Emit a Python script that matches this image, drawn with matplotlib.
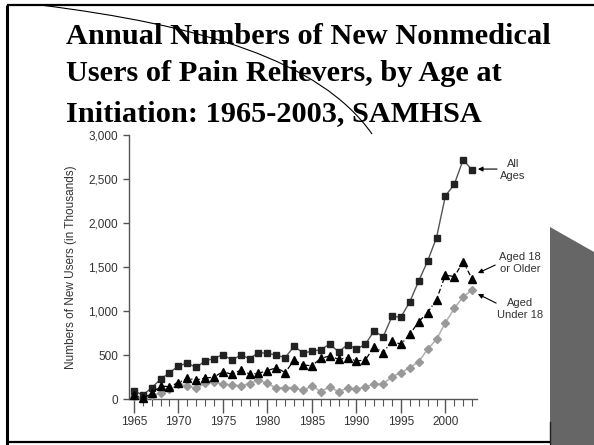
import numpy as np
import matplotlib.pyplot as plt
from matplotlib.patches import Polygon
from matplotlib.path import Path
from matplotlib.patches import PathPatch

# datos (miles de usuarios nuevos)
years = list(range(1965, 2004))
all_ages = [92, 45, 127, 225, 300, 375, 408, 358, 433, 460,
            505, 443, 498, 460, 528, 519, 498, 470, 600, 522,
            543, 560, 625, 535, 618, 568, 620, 776, 705, 938,
            930, 1105, 1340, 1568, 1833, 2308, 2440, 2720, 2600]
aged_18_plus = [45, 8, 64, 148, 140, 185, 235, 216, 238, 248,
                312, 280, 328, 284, 292, 322, 356, 300, 443, 386,
                378, 462, 489, 451, 469, 432, 443, 594, 526, 660,
                621, 736, 878, 982, 1130, 1409, 1390, 1560, 1363]
under_18 = [30, 10, 40, 68, 110, 165, 150, 122, 178, 190,
            172, 160, 151, 176, 215, 177, 123, 130, 130, 97,
            148, 85, 138, 83, 125, 112, 140, 170, 170, 253,
            299, 356, 424, 565, 678, 867, 1030, 1162, 1238]
y_ticks = [0, 500, 1000, 1500, 2000, 2500, 3000]
y_tick_labels = ["0", "500", "1,000", "1,500", "2,000", "2,500", "3,000"]
x_ticks = [1965, 1970, 1975, 1980, 1985, 1990, 1995, 2000]
title_lines = ["Annual Numbers of New Nonmedical",
               "Users of Pain Relievers, by Age at",
               "Initiation: 1965-2003, SAMHSA"]

W, H = 594, 445
fig = plt.figure(figsize=(W / 100, H / 100), dpi=100)

# capa de fondo en pixeles para los adornos de la diapositiva
deco = fig.add_axes([0, 0, 1, 1], zorder=3)
deco.set_xlim(0, W)
deco.set_ylim(H, 0)
deco.axis('off')
deco.patch.set_alpha(0)
deco.plot([7, 7], [5, H], color='black', lw=2.2, solid_capstyle='butt')
deco.plot([7, W], [5, 5], color='black', lw=1.6, solid_capstyle='butt')
deco.plot([7, 550], [442, 442], color='black', lw=1.6, solid_capstyle='butt')
deco.add_patch(Polygon([[550, 227], [W, 252], [W, H], [550, H]], closed=True,
                       facecolor='#666666', edgecolor='none'))
deco.plot([550, 550], [422, H], color='#222222', lw=1)
curva = Path([(40, 5), (200, 25), (320, 60), (372, 134)],
             [Path.MOVETO, Path.CURVE4, Path.CURVE4, Path.CURVE4])
deco.add_patch(PathPatch(curva, facecolor='none', edgecolor='black', lw=0.8))

# titulo
baselines = [43.6, 81.4, 121]
for linea, yb in zip(title_lines, baselines):
    fig.text(66 / W, 1 - yb / H, linea, fontsize=21.9, fontweight='bold',
             family='Liberation Serif', va='baseline', ha='left', color='black')

# grafico
ax = fig.add_axes([129 / W, (H - 399) / H, (477 - 129) / W, (399 - 135) / H])
ax.plot(years, all_ages, color='#555555', lw=1, marker='s', ms=4.5,
        mfc='#222222', mec='#222222', clip_on=False, zorder=4)
ax.plot(years, aged_18_plus, color='black', lw=0.9, ls=(0, (4, 2, 1, 2)),
       marker='^', ms=5.2, mfc='black', mec='black', clip_on=False, zorder=5)
ax.plot(years, under_18, color='#b0b0b0', lw=1.1, marker='D', ms=3.7,
        mfc='#999999', mec='#999999', clip_on=False, zorder=3)

ax.set_xlim(1964.45, 2003.55)
ax.set_ylim(0, 3000)
ax.spines['top'].set_visible(False)
ax.spines['right'].set_visible(False)
for s in ['left', 'bottom']:
    ax.spines[s].set_color('#555555')
    ax.spines[s].set_linewidth(1)
ax.set_xticks(x_ticks)
ax.set_xticks(years, minor=True)
ax.set_yticks(y_ticks)
ax.set_yticklabels(y_tick_labels)
ax.tick_params(axis='x', which='major', length=10, width=1, color='#555555',
               labelsize=8.5, labelcolor='#333333', pad=2)
ax.tick_params(axis='x', which='minor', length=5, width=0.8, color='#555555')
ax.tick_params(axis='y', length=4, width=1, color='#555555',
               labelsize=8.5, labelcolor='#333333', pad=4)
for lbl in ax.get_xticklabels() + ax.get_yticklabels():
    lbl.set_family('Liberation Sans')
ax.set_ylabel('Numbers of New Users (in Thousands)', fontsize=8.5,
              family='Liberation Sans', color='#333333', labelpad=8)

flecha = dict(arrowstyle='-|>', color='black', lw=0.8, mutation_scale=7,
              shrinkA=0, shrinkB=0)
txt = dict(fontsize=8, family='Liberation Sans', color='#333333',
           ha='center', va='center', linespacing=1.3)
ax.annotate('', xy=(2003.65, 2613), xytext=(2005.8, 2613),
            arrowprops=flecha, annotation_clip=False)
ax.text(2007.6, 2600, 'All\nAges', **txt)
ax.annotate('', xy=(2003.65, 1431), xytext=(2005.6, 1522),
            arrowprops=flecha, annotation_clip=False)
ax.text(2008.4, 1545, 'Aged 18\nor Older', **txt)
ax.annotate('', xy=(2003.65, 1193), xytext=(2005.7, 1090),
            arrowprops=flecha, annotation_clip=False)
ax.text(2008.4, 1022, 'Aged\nUnder 18', **txt)

fig.savefig('out.png', dpi=100)
